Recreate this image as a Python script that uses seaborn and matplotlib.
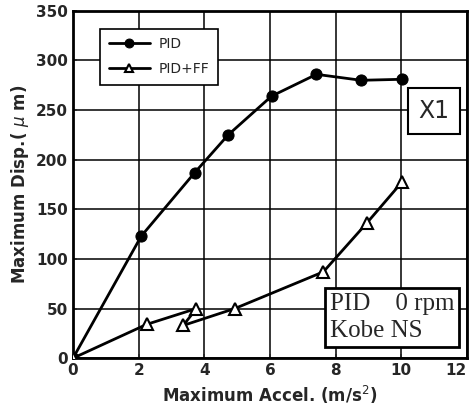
import matplotlib.pyplot as plt
import numpy as np
import seaborn as sns
import pandas as pd

# datos
acc_pid = [0, 2.08, 3.71, 4.73, 6.05, 7.42, 8.78, 10.02]
disp_pid = [0, 123, 187, 225, 264, 286, 280, 281]
acc_ff = [0, 2.24, 3.76, 3.36, 4.93, 7.63, 8.95, 10.04]
disp_ff = [0, 34, 50, 33, 50, 87, 136, 178]

df_pid = pd.DataFrame({'acc': acc_pid, 'disp': disp_pid})
df_ff = pd.DataFrame({'acc': acc_ff, 'disp': disp_ff})

sns.set_style('ticks')
plt.rcParams['font.family'] = ['DejaVu Sans']

fig = plt.figure(figsize=(4.71, 4.16), dpi=100)
ax = fig.add_axes([0.155, 0.139, 0.836, 0.835])

sns.lineplot(x='acc', y='disp', data=df_pid, sort=False, ax=ax, color='black',
             lw=2, marker='o', markersize=8, markerfacecolor='black',
             markeredgecolor='black', label='PID', zorder=3)
sns.lineplot(x='acc', y='disp', data=df_ff, sort=False, ax=ax, color='black',
             lw=2, marker='^', markersize=8, markerfacecolor='white',
             markeredgecolor='black', markeredgewidth=1.5, label='PID+FF', zorder=3)

ax.set_xlim(0, 12)
ax.set_ylim(0, 350)
ax.set_xticks(np.arange(0, 13, 2))
ax.set_yticks(np.arange(0, 351, 50))
ax.grid(True, color='black', lw=1.1)
ax.set_axisbelow(True)
for s in ax.spines.values():
    s.set_linewidth(2)
    s.set_color('black')
ax.tick_params(direction='in', length=3, width=1.2, labelsize=11)
for t in ax.get_xticklabels() + ax.get_yticklabels():
    t.set_fontweight('bold')
ax.get_xticklabels()[-1].set_horizontalalignment('right')
ax.get_xticklabels()[-1].set_x(12.1)

ax.set_xlabel('Maximum Accel. (m/s$^2$)', fontsize=12, fontweight='bold')
ax.set_ylabel('Maximum Disp.( $\\mu$ m)', fontsize=12, fontweight='bold')

leg = ax.legend(loc='upper left', bbox_to_anchor=(0.069, 0.948), borderaxespad=0,
                fontsize=10, frameon=True, fancybox=False, edgecolor='black',
                framealpha=1, handlelength=3.0, borderpad=0.6, labelspacing=0.8,
                markerscale=0.8, handletextpad=0.6)
leg.get_frame().set_linewidth(1.2)

ax.text(11.0, 249, 'X1', fontsize=17, ha='center', va='center',
        bbox=dict(boxstyle='square,pad=0.45', fc='white', ec='black', lw=1.5))
ax.text(7.82, 41, 'PID    0 rpm\nKobe NS', fontsize=18, ha='left', va='center',
        family='Liberation Serif', linespacing=1.35, multialignment='left',
        bbox=dict(boxstyle='square,pad=0.2', fc='white', ec='black', lw=2))

plt.savefig('out.png', dpi=100)
